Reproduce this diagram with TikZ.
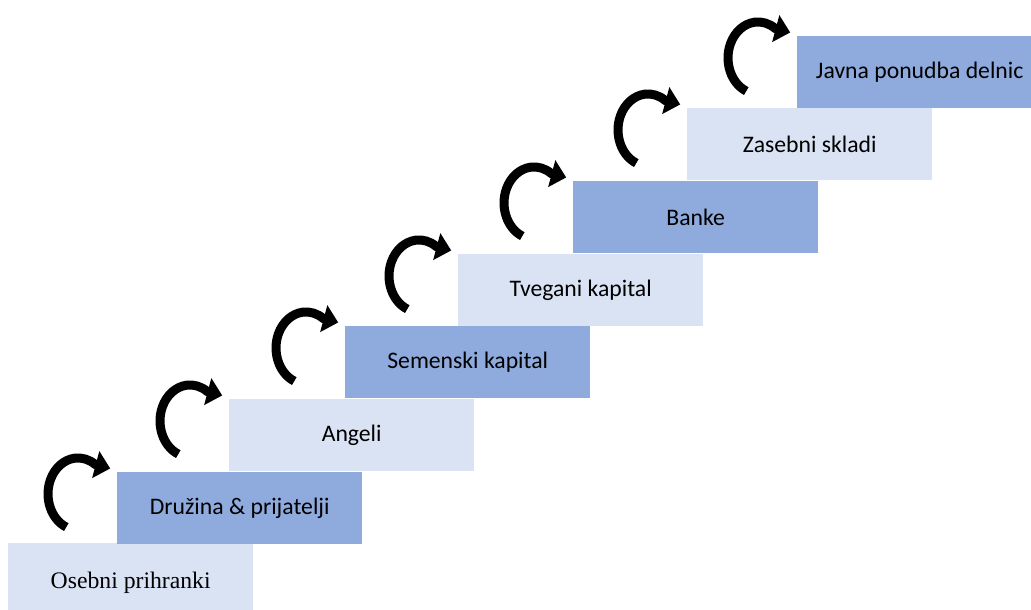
\documentclass[tikz,border=0pt]{standalone}
\usepackage{fontspec}
\setmainfont{Carlito}
\newfontfamily\serifface{Liberation Serif}
\usetikzlibrary{arrows.meta,calc}
\definecolor{steplight}{HTML}{DAE3F3}
\definecolor{stepdark}{HTML}{8FAADC}
\begin{document}
\begin{tikzpicture}[x=1pt,y=1pt,
  stepbox/.style={anchor=north west, minimum width=245pt, minimum height=72pt,
    inner sep=0pt, draw=none, font=\fontsize{23.7}{28}\selectfont},
  lightbox/.style={stepbox, fill=steplight},
  darkbox/.style={stepbox, fill=stepdark},
  climb/.style={line width=9pt, -{Triangle[width=27pt,length=15pt]}}]
\useasboundingbox (0,0) rectangle (1031,610);
% staircase of funding stages
\node[lightbox] (b1) at (8,67)   {\serifface\raisebox{-9pt}[0pt][0pt]{Osebni prihranki}};
\node[darkbox]  (b2) at (117,138) {Družina \& prijatelji};
\node[lightbox] (b3) at (229,211) {Angeli};
\node[darkbox]  (b4) at (345,284) {Semenski kapital};
\node[lightbox] (b5) at (458,356) {Tvegani kapital};
\node[darkbox]  (b6) at (573,429) {Banke};
\node[lightbox] (b7) at (687,502) {Zasebni skladi};
\node[darkbox]  (b8) at (797,574) {Javna ponudba delnic};
% curved arrows climbing onto each next step
\foreach \n in {2,...,8}{
  \draw[climb] ($(b\n.north west)+(-50.7,-55.1)$)
    arc[start angle=247, end angle=55, x radius=30, y radius=36]
    -- ++(15,-4);
}
\end{tikzpicture}
\end{document}
